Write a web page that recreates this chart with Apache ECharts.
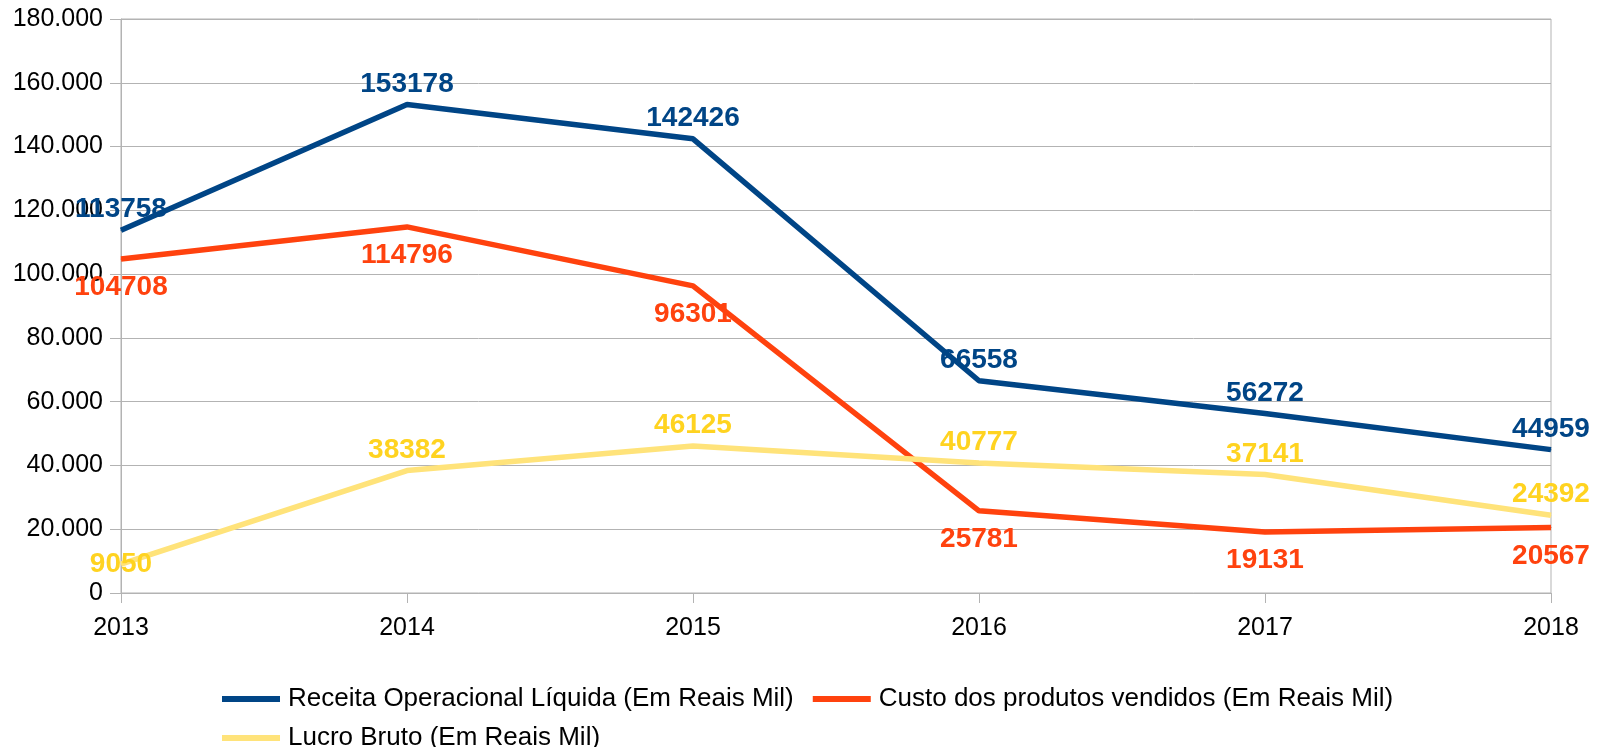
<!DOCTYPE html>
<html>
<head>
<meta charset="utf-8">
<script src="https://cdn.jsdelivr.net/npm/echarts@6/dist/echarts.min.js"></script>
<style>
  html, body { margin: 0; padding: 0; background: #fff; }
  #chart { width: 1612px; height: 747px; }
</style>
</head>
<body>
<div id="chart"></div>
<script>
const years = ['2013', '2014', '2015', '2016', '2017', '2018']
const receita = [113758, 153178, 142426, 66558, 56272, 44959]
const custo = [104708, 114796, 96301, 25781, 19131, 20567]
const lucro = [9050, 38382, 46125, 40777, 37141, 24392]

const seriesNames = [
  'Receita Operacional Líquida (Em Reais Mil)',
  'Custo dos produtos vendidos (Em Reais Mil)',
  'Lucro Bruto (Em Reais Mil)'
]
const lineColors = ['#004586', '#ff420e', '#ffe37a']
const labelColors = ['#004586', '#ff420e', '#ffd320']

const chart = echarts.init(document.getElementById('chart'))

const fmt = (v) => String(v).replace(/\B(?=(\d{3})+(?!\d))/g, '.')

const makeSeries = (i, data, position, distance) => ({
  name: seriesNames[i],
  type: 'line',
  data,
  symbol: 'circle',
  symbolSize: 1,
  showSymbol: true,
  lineStyle: { color: lineColors[i], width: 5.5 },
  itemStyle: { color: lineColors[i] },
  label: {
    show: true,
    position,
    distance,
    color: labelColors[i],
    fontFamily: 'Liberation Sans',
    fontWeight: 'bold',
    fontSize: 28
  },
  labelLayout: { hideOverlap: false },
  emphasis: { disabled: true },
  z: 2
})

// o rótulo de 9050 fica centrado no ponto no original
const lucroData = lucro.map((v, i) => i === 0 ? { value: v, label: { position: 'inside' } } : v)

const legendBase = {
  left: 217,
  icon: 'rect', itemWidth: 58, itemHeight: 6, itemGap: 19,
  textStyle: { fontFamily: 'Liberation Sans', fontSize: 26, color: '#000', padding: [0, 0, 0, 3] }
}

const option = {
  animation: false,
  textStyle: { fontFamily: 'Liberation Sans' },
  grid: {
    left: 121, right: 61, top: 19, bottom: 154,
    show: true, borderColor: '#b3b3b3', borderWidth: 1
  },
  legend: [
    { ...legendBase, top: 681, data: [0, 1].map(i => ({ name: seriesNames[i], itemStyle: { color: lineColors[i] } })) },
    { ...legendBase, top: 720, data: [{ name: seriesNames[2], itemStyle: { color: lineColors[2] } }] }
  ],
  xAxis: {
    type: 'category',
    data: years,
    boundaryGap: false,
    axisLine: { lineStyle: { color: '#b3b3b3' } },
    axisTick: { show: true, length: 10, lineStyle: { color: '#b3b3b3' } },
    axisLabel: { color: '#000', fontSize: 25, margin: 23, fontFamily: 'Liberation Sans' },
    splitLine: { show: false }
  },
  yAxis: {
    type: 'value',
    min: 0, max: 180000, interval: 20000,
    axisLine: { show: true, lineStyle: { color: '#b3b3b3' } },
    axisTick: { show: true, length: 11, lineStyle: { color: '#b3b3b3' } },
    axisLabel: { color: '#000', fontSize: 25, margin: 18, fontFamily: 'Liberation Sans', formatter: fmt },
    splitLine: { lineStyle: { color: '#b3b3b3' } }
  },
  series: [
    makeSeries(0, receita, 'top', 6),
    makeSeries(1, custo, 'bottom', 14),
    makeSeries(2, lucroData, 'top', 6)
  ]
}

chart.setOption(option)
</script>
</body>
</html>
